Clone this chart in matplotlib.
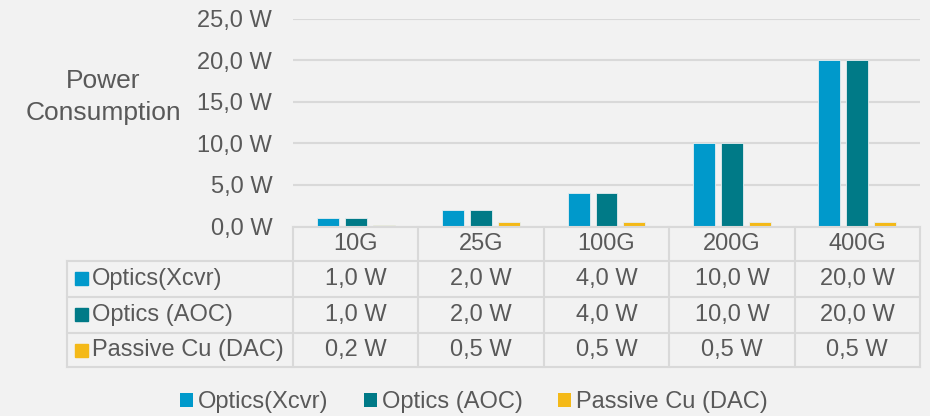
import numpy as np
import matplotlib
matplotlib.use("Agg")
import matplotlib.pyplot as plt
from matplotlib.patches import Rectangle, Patch
from matplotlib.lines import Line2D
from matplotlib import transforms

categories = ["10G", "25G", "100G", "200G", "400G"]
series_names = ["Optics(Xcvr)", "Optics (AOC)", "Passive Cu (DAC)"]
xcvr = [1.0, 2.0, 4.0, 10.0, 20.0]
aoc = [1.0, 2.0, 4.0, 10.0, 20.0]
dac = [0.2, 0.5, 0.5, 0.5, 0.5]
yticks = [0, 5, 10, 15, 20, 25]

colors = ["#0099CB", "#007A87", "#F4B918"]
bg = "#F2F2F2"
grid_c = "#D9D9D9"
text_c = "#595959"

plt.rcParams["font.family"] = ["Liberation Sans", "DejaVu Sans"]

W, H = 930, 416
fig = plt.figure(figsize=(W / 100, H / 100), dpi=100, facecolor=bg)


def fx(x):
    return x / W


def fy(y):
    return 1 - y / H


ax = fig.add_axes([fx(293), fy(226.5), fx(920) - fx(293), fy(18.5) - fy(226.5)])
ax.set_facecolor(bg)

def fmt(v):
    return f"{v:.1f} W".replace(".", ",")

x = np.arange(len(categories))
width = 0.175
step = 0.223
all_series = [xcvr, aoc, dac]
for i, (vals, c) in enumerate(zip(all_series, colors)):
    ax.bar(x + (i - 1) * step, vals, width, color=c, edgecolor="#E6EEF0",
           linewidth=0.6, zorder=3)

ax.set_xlim(-0.5, len(categories) - 0.5)
ax.set_ylim(0, 25)
ax.set_yticks(yticks)
ax.set_yticklabels([fmt(v) for v in yticks])
ax.set_xticks([])
ax.tick_params(axis="y", length=0, pad=15, labelsize=17, labelcolor=text_c)
for s in ax.spines.values():
    s.set_visible(False)
ax.yaxis.grid(True, color=grid_c, linewidth=1.5, zorder=0)
ax.set_axisbelow(True)

fig.text(fx(103), fy(97), "Power\nConsumption", ha="center", va="center",
         fontsize=19, color=text_c, linespacing=1.45)

# data table below the axis
rows_y = [226.5, 260.7, 297.0, 332.7, 367.3]
left_x = 67
right_x = 920
lw = 1.5
blend = transforms.blended_transform_factory(ax.transData, fig.transFigure)

fig.add_artist(Line2D([fx(293), fx(right_x)], [fy(rows_y[0])] * 2, color=grid_c, lw=lw))
for ry in rows_y[1:]:
    fig.add_artist(Line2D([fx(left_x), fx(right_x)], [fy(ry)] * 2, color=grid_c, lw=lw))
fig.add_artist(Line2D([fx(left_x)] * 2, [fy(rows_y[1]), fy(rows_y[-1])], color=grid_c, lw=lw))
for b in np.arange(len(categories) + 1) - 0.5:
    fig.add_artist(Line2D([b, b], [fy(rows_y[0]), fy(rows_y[-1])], color=grid_c,
                          lw=lw, transform=blend))

for i, cat in enumerate(categories):
    yc = (rows_y[0] + rows_y[1]) / 2
    fig.text(i, fy(yc), cat, transform=blend, ha="center", va="center",
             fontsize=17, color=text_c)

for r, (name, vals, c) in enumerate(zip(series_names, all_series, colors)):
    yc = (rows_y[r + 1] + rows_y[r + 2]) / 2
    fig.add_artist(Rectangle((fx(75), fy(yc + 6.5)), fx(12.5), fy(0) - fy(13),
                             color=c, transform=fig.transFigure))
    fig.text(fx(92), fy(yc), name, ha="left", va="center", fontsize=17, color=text_c)
    for i, v in enumerate(vals):
        fig.text(i, fy(yc), fmt(v), transform=blend, ha="center", va="center",
                 fontsize=17, color=text_c)

handles = [Patch(facecolor=c, edgecolor="none") for c in colors]
fig.legend(handles, series_names, loc="center", bbox_to_anchor=(fx(474), fy(402)),
           ncol=3, frameon=False, fontsize=17, labelcolor=text_c,
           handlelength=0.55, handleheight=0.55, handletextpad=0.2,
           columnspacing=1.5, borderpad=0)

fig.savefig("out.png", dpi=100, facecolor=bg)
